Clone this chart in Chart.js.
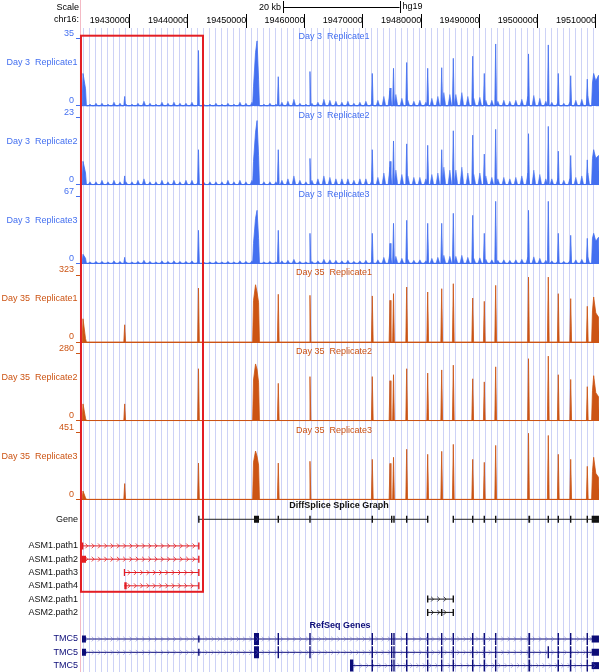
<!DOCTYPE html>
<html><head><meta charset="utf-8"><title>DiffSplice tracks</title>
<script src="https://cdn.jsdelivr.net/npm/chart.js@4.4.1/dist/chart.umd.min.js"></script>
<style>html,body{margin:0;padding:0;background:#fff;overflow:hidden}#wrap{position:relative;width:599px;height:672px}canvas{display:block}</style>
</head><body><div id="wrap"><canvas id="c" width="599" height="672"></canvas></div>
<script>
// ---------------- data ----------------
const X_MIN = 19421645, X_MAX = 19510515;            // chr16 window (bp)
const rulerTicks = [19430000,19440000,19450000,19460000,19470000,19480000,19490000,19500000,19510000];
const scaleBarStart = 19456300, scaleBarLen = 20000;
const highlightRange = [19421470, 19442575];

const trackNames = ['Day 3  Replicate1','Day 3  Replicate2','Day 3  Replicate3','Day 35  Replicate1','Day 35  Replicate2','Day 35  Replicate3'];
const trackMax = [35, 23, 67, 323, 280, 451];

// peak summit positions (bp), shared by all six coverage tracks
const peakPos = [19421990,19422420,19429140,19441800,19451240,19451590,19451850,19452110,19455490,19460930,
  19471620,19474660,19475260,19477520,19481125,19483530,19485520,19488845,19490835,19492790,
  19498420,19501815,19503530,19505660,19508505,19509395,19509600,19509965,19510430];
const d3r1Peaks = [17,9,5,29,10,28,34,14,15.3,18, 17,9.4,19.7,22.7,19.7,20,24.9,26,17,32.4, 27.2,31.9,17,15.8,14,12,17,13,16];
const d3r2Peaks = [8,4,3,12,8,18,22,10,12,9, 12,8,15,14,13.5,12,18.5,17,10.5,19, 17.5,20,11.5,10,8.5,9,12,9,10];
const d3r3Peaks = [9,5,6,33,20,45,53,25,33,30, 30,20,40,43,40,40,50,48,30,62, 53,62,30,28,25,25,30,22,26];
const d35r1Peaks = [112,16,83,260,200,276,240,190,230,225, 222,201,233,265,241,257,281,212,196,273, 313,313,233,209,172,150,217,140,120];
const d35r2Peaks = [70,10,70,217,170,237,215,160,156,184, 184,167,192,217,199,212,232,175,162,225, 259,270,192,172,142,125,188,117,100];
const d35r3Peaks = [56,10,106,244,250,325,290,230,244,256, 269,242,283,337,303,323,370,269,249,363, 445,430,303,269,222,188,283,175,148];

// low background coverage, binned (bin start / size in bp)
const noiseStart = 19422160, noiseBin = 1029;
const d3r1Noise = [0,1,1.5,1.5,1,2,1.5,1,1,1.5, 2.5,1.5,1,2,1.5,2,1.5,1.5,2,1, 0.8,1,1.5,1,1.5,1,2,1.5,2,0, 1,1.5,1,2,2.5,3.5,1.5,1,1.5,2, 3.5,3,2.5,2,2.5,1.5,2,2.5,1.5,3, 5,8,6,4,3,2.5,3,2,4,5, 7,6,6,7,5,4,4.5,3,3,2.5, 3,2.5,3,3.5,5,5.5,4,2.5,2,2, 1.5,2,3,3.5,5,8];
const d3r2Noise = [0,1,1,1.5,1,1.5,1,1,1,1.5, 2,1,1,1.5,1,1.5,1,1.5,1.5,1, 0.8,1,1,1,1.5,1,1.5,1,1.5,0, 1,1,1,1.5,2,3,1.5,1,1.5,2, 3,2.5,2,2,2,1.5,2,2,1.5,2.5, 4,6,5,3.5,3,2.5,2.5,2,3.5,4, 6,5,5,6,4,3.5,4,3,2.5,2, 2.5,2,2.5,3,4,5,3.5,2,2,2, 1.5,2,2.5,3,4,6];
const d3r3Noise = [0,1.5,2,2,1.5,2.5,2,1.5,1.5,2, 3,2,1.5,2.5,2,2.5,2,2,2.5,1.5, 1,1.5,2,1.5,2,1.5,2.5,2,2.5,0, 1.5,2,1.5,2.5,3,4,2,1.5,2,2.5, 4,3.5,3,2.5,3,2,2.5,3,2,3.5, 6,9,7,5,4,3,3.5,2.5,5,6, 8,7,7,8,6,5,5.5,4,3.5,3, 3.5,3,3.5,4,6,6.5,5,3,2.5,2.5, 2,2.5,3.5,4,6,9];

// gene annotation rows (row index on the annotation axis)
const geneRowIdx = [1,3,4,5,6,7,8,10,11,12];
const geneRowLabels = ['Gene','ASM1.path1','ASM1.path2','ASM1.path3','ASM1.path4','ASM2.path1','ASM2.path2','TMC5','TMC5','TMC5'];

const diffIntrons = [[19441860,19481124],[19485516,19510511]];
const diffExons = [[19441740,19441980],[19451325,19452182],[19455373,19455613],[19460812,19461052],[19471500,19471740],
  [19474828,19475068],[19475222,19475462],[19477401,19477641],[19481004,19481244],[19485396,19485636],[19488724,19488964],
  [19490714,19490954],[19492670,19492910],[19498400,19498700],[19501694,19501934],[19503409,19503649],[19505536,19505776],
  [19508384,19508624],[19509259,19510511]];

const asmIntrons = [[19421817,19441860],[19421817,19441860],[19429074,19441860],[19429074,19441860],[19481124,19485516],[19481124,19485516]];
const asmExons = [
  [[19421817,19422050],[19441740,19441980]],
  [[19421817,19422503],[19441740,19441980]],
  [[19428990,19429200],[19441740,19441980]],
  [[19429074,19429485],[19441740,19441980]],
  [[19481004,19481244],[19485396,19485636]],
  [[19481004,19481244],[19483406,19483646],[19485396,19485636]]
];

const tmcIntrons = [[19421817,19510511],[19421817,19510511],[19467795,19510511]];
const tmcUtr = [
  [[19421817,19422503],[19441740,19441980],[19509259,19510511]],
  [[19421817,19422503],[19441740,19441980],[19509259,19510511]],
  [[19509259,19510511]]
];
const tmcCds = [
  [[19451325,19452182],[19455373,19455613],[19460812,19461052],[19471500,19471740],[19474828,19475068],[19475222,19475462],
   [19477401,19477641],[19481004,19481244],[19483406,19483646],[19485396,19485636],[19488724,19488964],[19490714,19490954],
   [19492670,19492910],[19498400,19498700],[19503409,19503649],[19505536,19505776],[19508384,19508624]],
  [[19451325,19452182],[19455373,19455613],[19460812,19461052],[19471500,19471740],[19474828,19475068],[19475222,19475462],
   [19477401,19477641],[19481004,19481244],[19483406,19483646],[19485396,19485636],[19488724,19488964],[19490714,19490954],
   [19492670,19492910],[19498400,19498700],[19501694,19501934],[19503409,19503649],[19505536,19505776],[19508384,19508624]],
  [[19467795,19468361],[19471500,19471740],[19474828,19475068],[19475222,19475462],
   [19477401,19477641],[19481004,19481244],[19483406,19483646],[19485396,19485636],[19488724,19488964],[19490714,19490954],
   [19492670,19492910],[19498400,19498700],[19503409,19503649],[19505536,19505776],[19508384,19508624]]
];

// ---------------- styling ----------------
const FONT = '"Liberation Sans", Arial, Helvetica, sans-serif';
const BLUE = '#4470f0', ORANGE = '#cc5414', NAVY = '#0c0c78', RED = '#e31e24', GUIDE = '#cdd2f6';
const trackColor = [BLUE,BLUE,BLUE,ORANGE,ORANGE,ORANGE];
const trackNoise = [d3r1Noise,d3r2Noise,d3r3Noise,null,null,null];
const trackPeaks = [d3r1Peaks,d3r2Peaks,d3r3Peaks,d35r1Peaks,d35r2Peaks,d35r3Peaks];
const BAND = 78.67, GENE_BAND = 172;

function peakData(pos, hts, hw, gap) {
  const items = pos.map((p, i) => [p, hts[i]]).filter(d => d[1] > 0).sort((a, b) => a[0] - b[0]);
  const pts = [{x: X_MIN, y: 0}];
  let i = 0;
  while (i < items.length) {
    let j = i;
    while (j + 1 < items.length && items[j + 1][0] - items[j][0] < gap) j++;
    pts.push({x: items[i][0] - hw, y: 0});
    for (let k = i; k <= j; k++) pts.push({x: items[k][0], y: items[k][1]});
    pts.push({x: items[j][0] + hw, y: 0});
    i = j + 1;
  }
  pts.push({x: X_MAX, y: 0});
  return pts;
}
function noiseData(vals) {
  return peakData(vals.map((v, b) => noiseStart + b * noiseBin), vals, 320, 0);
}
function segData(list, k) {
  const d = [];
  list.forEach(([s, e]) => { d.push({x: s, y: k}, {x: e, y: k}, {x: e, y: null}); });
  return d;
}

const datasets = [];
trackMax.forEach((mx, i) => {
  const col = trackColor[i];
  if (trackNoise[i]) datasets.push({data: noiseData(trackNoise[i]), yAxisID: 'y' + i, borderColor: col, backgroundColor: col, borderWidth: 0.5, fill: 'origin'});
  datasets.push({data: peakData(peakPos, trackPeaks[i], 150, 500), yAxisID: 'y' + i, borderColor: col, backgroundColor: col, borderWidth: 0.8, fill: 'origin'});
});
function geneSet(list, k, col, w) {
  return {data: segData(list, k), yAxisID: 'yg', borderColor: col, backgroundColor: col, borderWidth: w, fill: false, borderCapStyle: 'butt'};
}
datasets.push(geneSet(diffIntrons, 1, '#222', 1), geneSet(diffExons, 1, '#111', 7));
asmIntrons.forEach((seg, r) => {
  const col = r < 4 ? RED : '#111';
  datasets.push(geneSet([seg], 3 + r, col, 1), geneSet(asmExons[r], 3 + r, col, 7));
});
tmcIntrons.forEach((seg, r) => {
  datasets.push(geneSet([seg], 10 + r, NAVY, 1), geneSet(tmcUtr[r], 10 + r, NAVY, 7), geneSet(tmcCds[r], 10 + r, NAVY, 12));
});
datasets.forEach(d => Object.assign(d, {type: 'line', xAxisID: 'x', pointRadius: 0, pointHitRadius: 0, tension: 0, spanGaps: false}));

const chevRows = [];
asmIntrons.forEach((seg, r) => chevRows.push({k: 3 + r, segs: [seg], color: r < 4 ? 'rgba(227,30,36,0.9)' : 'rgba(20,20,20,0.85)'}));
tmcIntrons.forEach((seg, r) => chevRows.push({k: 10 + r, segs: [seg], color: 'rgba(100,100,205,0.55)'}));

// ---------------- scales ----------------
const guideTicks = [];
for (let v = 19422040; v < X_MAX; v += 1029) guideTicks.push({value: v});

function noPad(s) { s.paddingTop = 0; s.paddingBottom = 0; s.paddingLeft = 0; s.paddingRight = 0; }

const scales = {
  x: {
    type: 'linear', position: 'top', min: X_MIN, max: X_MAX, weight: 0,
    afterFit: s => { s.height = 28; noPad(s); },
    afterBuildTicks: s => { s.ticks = rulerTicks.map(v => ({value: v})); },
    border: {display: false},
    grid: {drawOnChartArea: false, drawTicks: true, tickLength: 14, color: '#000', tickColor: '#000', lineWidth: 1},
    ticks: {autoSkip: false, maxRotation: 0, minRotation: 0, align: 'end', padding: -12.4, color: '#000',
      font: {family: FONT, size: 9}, callback: v => String(v)}
  },
  xg: {
    type: 'linear', position: 'bottom', min: X_MIN, max: X_MAX,
    afterFit: s => { s.height = 0; noPad(s); },
    afterBuildTicks: s => { s.ticks = guideTicks.slice(); },
    border: {display: false},
    grid: {color: GUIDE, drawTicks: false, lineWidth: 1},
    ticks: {display: false}
  }
};
trackMax.forEach((mx, i) => {
  const col = trackColor[i];
  scales['y' + i] = {
    type: 'linear', position: 'left', stack: 'tracks', stackWeight: BAND, weight: 20 - i,
    min: -0.01 * mx, max: mx * 78 / 67,
    afterFit: s => { s.width = 81; noPad(s); },
    afterBuildTicks: s => { s.ticks = [{value: 0}, {value: mx}]; },
    border: {display: false},
    grid: {drawOnChartArea: true, drawTicks: true, tickLength: 5, lineWidth: 1,
      color: c => (c.tick && c.tick.value === 0) ? col : 'rgba(0,0,0,0)',
      tickColor: col},
    ticks: {autoSkip: false, padding: 2, labelOffset: -5, color: col, font: {family: FONT, size: 9},
      callback: v => String(v)}
  };
});
scales.yg = {
  type: 'linear', position: 'left', stack: 'tracks', stackWeight: GENE_BAND, weight: 1,
  reverse: true, min: -0.45, max: 12.48,
  afterFit: s => { s.width = 81; noPad(s); },
  afterBuildTicks: s => { s.ticks = geneRowIdx.map(v => ({value: v})); },
  border: {display: false},
  grid: {display: false, drawTicks: false},
  ticks: {autoSkip: false, padding: 3, color: c => (c.tick && c.tick.value >= 10) ? NAVY : '#111',
    font: {family: FONT, size: 9}, callback: v => geneRowLabels[geneRowIdx.indexOf(v)]}
};

// ---------------- decorations ----------------
const decor = {
  id: 'decor',
  afterDatasetsDraw(chart) {
    const ctx = chart.ctx, xs = chart.scales.x, yg = chart.scales.yg;
    ctx.save();
    ctx.lineWidth = 0.9;
    chevRows.forEach(r => {
      ctx.strokeStyle = r.color;
      const y = yg.getPixelForValue(r.k);
      r.segs.forEach(([s, e]) => {
        const x0 = xs.getPixelForValue(s), x1 = xs.getPixelForValue(e);
        ctx.beginPath();
        for (let px = x0 + 5; px < x1 - 2; px += 6.3) {
          ctx.moveTo(px - 1.6, y - 2.4); ctx.lineTo(px + 0.8, y); ctx.lineTo(px - 1.6, y + 2.4);
        }
        ctx.stroke();
      });
    });
    ctx.restore();
  },
  afterDraw(chart) {
    const ctx = chart.ctx, xs = chart.scales.x, yg = chart.scales.yg, area = chart.chartArea;
    ctx.save();
    // left boundary line
    ctx.strokeStyle = 'rgba(235,130,150,0.55)'; ctx.lineWidth = 1;
    ctx.beginPath(); ctx.moveTo(80.5, 0); ctx.lineTo(80.5, 672); ctx.stroke();
    // header
    ctx.fillStyle = '#000'; ctx.textBaseline = 'middle';
    ctx.font = '9px ' + FONT;
    ctx.textAlign = 'right';
    ctx.fillText('Scale', 79, 8);
    ctx.fillText('chr16:', 79, 20);
    const b0 = xs.getPixelForValue(scaleBarStart), b1 = xs.getPixelForValue(scaleBarStart + scaleBarLen);
    ctx.fillText('20 kb', b0 - 2, 8);
    ctx.textAlign = 'left';
    ctx.fillText('hg19', b1 + 3, 7);
    ctx.strokeStyle = '#000'; ctx.lineWidth = 1;
    ctx.beginPath();
    ctx.moveTo(b0, 7.5); ctx.lineTo(b1, 7.5);
    ctx.moveTo(Math.round(b0) + 0.5, 1); ctx.lineTo(Math.round(b0) + 0.5, 13);
    ctx.moveTo(Math.round(b1) + 0.5, 1); ctx.lineTo(Math.round(b1) + 0.5, 13);
    ctx.stroke();
    // track titles (centred) and side labels
    const mid = (area.left + area.right) / 2;
    trackMax.forEach((mx, i) => {
      const sc = chart.scales['y' + i];
      const top = sc.getPixelForValue(mx);
      ctx.fillStyle = trackColor[i];
      ctx.textAlign = 'center';
      ctx.fillText(trackNames[i], mid - 6, top - 2);
      ctx.textAlign = 'right';
      ctx.fillText(trackNames[i], 77.5, top + 24);
    });
    ctx.textAlign = 'center';
    ctx.font = 'bold 9px ' + FONT;
    ctx.fillStyle = '#111';
    ctx.fillText('DiffSplice Splice Graph', mid - 1, yg.getPixelForValue(0));
    ctx.fillStyle = NAVY;
    ctx.fillText('RefSeq Genes', mid, yg.getPixelForValue(9));
    // highlight box
    const hx0 = xs.getPixelForValue(highlightRange[0]), hx1 = xs.getPixelForValue(highlightRange[1]);
    const hy0 = chart.scales.y0.getPixelForValue(trackMax[0]) - 3.3, hy1 = yg.getPixelForValue(6.45);
    ctx.strokeStyle = RED; ctx.lineWidth = 2;
    ctx.strokeRect(hx0 + 1, hy0, hx1 - hx0 - 1, hy1 - hy0);
    ctx.restore();
  }
};

new Chart(document.getElementById('c'), {
  type: 'line',
  data: {datasets},
  options: {
    responsive: false, animation: false, devicePixelRatio: 1,
    layout: {padding: 0},
    events: [],
    plugins: {legend: {display: false}, tooltip: {enabled: false}, title: {display: false}},
    elements: {line: {borderCapStyle: 'butt', borderJoinStyle: 'miter'}},
    scales
  },
  plugins: [decor]
});
</script></body></html>
